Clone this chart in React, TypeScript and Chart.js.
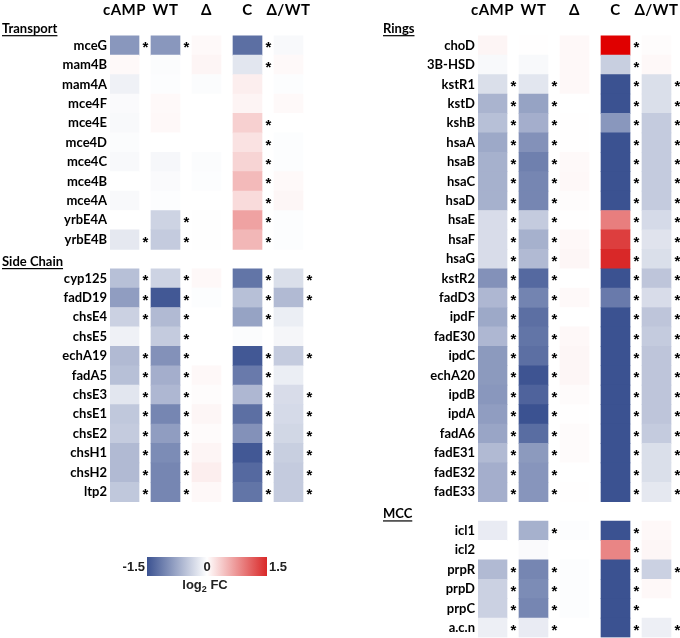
import React, { useEffect, useRef } from 'react';
import { Chart, registerables } from 'chart.js';
Chart.register(...registerables);

const columns = ['cAMP', 'WT', 'Δ', 'C', 'Δ/WT'];

// ---- Left panel ----
const transportGenes = ['mceG', 'mam4B', 'mam4A', 'mce4F', 'mce4E', 'mce4D', 'mce4C', 'mce4B', 'mce4A', 'yrbE4A', 'yrbE4B'];
const transportValues = [
  [-0.9, -0.9, 0.04, -1.25, -0.05],
  [0.04, -0.03, 0.07, -0.22, 0.04],
  [-0.12, -0.02, -0.03, 0.12, -0.02],
  [-0.04, 0.04, 0.0, 0.08, 0.04],
  [-0.05, 0.05, 0.0, 0.33, 0.0],
  [-0.03, 0.0, 0.0, 0.2, -0.02],
  [-0.05, -0.07, -0.03, 0.3, -0.02],
  [0.0, -0.04, -0.02, 0.48, 0.04],
  [-0.05, -0.02, 0.0, 0.25, 0.06],
  [0.0, -0.38, -0.01, 0.65, -0.02],
  [-0.2, -0.45, -0.01, 0.5, -0.02],
];
const transportStars = [[0, 1, 3], [3], [], [], [3], [3], [3], [3], [3], [1, 3], [0, 1, 3]];

const sideChainGenes = ['cyp125', 'fadD19', 'chsE4', 'chsE5', 'echA19', 'fadA5', 'chsE3', 'chsE1', 'chsE2', 'chsH1', 'chsH2', 'ltp2'];
const sideChainValues = [
  [-0.55, -0.38, 0.05, -1.2, -0.28],
  [-0.85, -1.45, -0.02, -0.55, -0.6],
  [-0.4, -0.6, 0.0, -0.8, -0.15],
  [-0.12, -0.45, 0.0, -0.03, -0.08],
  [-0.6, -0.95, 0.0, -1.45, -0.45],
  [-0.55, -0.7, 0.05, -1.15, -0.15],
  [-0.22, -0.62, 0.02, -0.62, -0.3],
  [-0.48, -1.05, 0.06, -1.25, -0.32],
  [-0.45, -0.85, 0.03, -0.95, -0.35],
  [-0.6, -1.0, 0.07, -1.45, -0.42],
  [-0.6, -1.05, 0.12, -1.3, -0.45],
  [-0.48, -1.05, 0.05, -1.2, -0.45],
];
const sideChainStars = [[0, 1, 3, 4], [0, 1, 3, 4], [0, 1, 3], [1], [0, 1, 3, 4], [0, 1, 3], [0, 1, 3, 4], [0, 1, 3, 4], [0, 1, 3, 4], [0, 1, 3, 4], [0, 1, 3, 4], [0, 1, 3, 4]];

// ---- Right panel ----
const ringsGenes = ['choD', '3B-HSD', 'kstR1', 'kstD', 'kshB', 'hsaA', 'hsaB', 'hsaC', 'hsaD', 'hsaE', 'hsaF', 'hsaG', 'kstR2', 'fadD3', 'ipdF', 'fadE30', 'ipdC', 'echA20', 'ipdB', 'ipdA', 'fadA6', 'fadE31', 'fadE32', 'fadE33'];
const ringsValues = [
  [0.07, 0.01, 0.05, 2.0, 0.02],
  [-0.05, -0.05, 0.05, -0.42, 0.05],
  [-0.28, -0.22, 0.05, -1.5, -0.28],
  [-0.65, -0.8, 0.0, -1.5, -0.28],
  [-0.55, -0.7, 0.01, -0.9, -0.45],
  [-0.75, -0.95, 0.01, -1.5, -0.45],
  [-0.68, -1.1, 0.04, -1.5, -0.45],
  [-0.68, -1.05, 0.05, -1.5, -0.45],
  [-0.68, -1.05, 0.02, -1.5, -0.45],
  [-0.3, -0.45, 0.01, 0.9, -0.32],
  [-0.3, -0.68, 0.05, 1.35, -0.24],
  [-0.3, -0.6, 0.06, 1.5, -0.28],
  [-0.95, -1.3, 0.0, -1.5, -0.5],
  [-0.62, -1.07, 0.04, -1.15, -0.3],
  [-0.75, -1.25, 0.0, -1.5, -0.5],
  [-0.62, -1.2, 0.05, -1.5, -0.45],
  [-0.88, -1.25, 0.06, -1.5, -0.5],
  [-0.88, -1.48, 0.06, -1.5, -0.5],
  [-0.9, -1.35, 0.03, -1.5, -0.5],
  [-0.85, -1.5, 0.01, -1.5, -0.5],
  [-0.78, -1.27, 0.03, -1.5, -0.45],
  [-0.6, -0.88, 0.03, -1.5, -0.28],
  [-0.7, -0.92, 0.0, -1.5, -0.28],
  [-0.7, -0.92, 0.01, -1.5, -0.2],
];
const ringsStars = [[3], [3], ...Array.from({ length: 22 }, () => [0, 1, 3, 4])];

const mccGenes = ['icl1', 'icl2', 'prpR', 'prpD', 'prpC', 'a.c.n'];
const mccValues = [
  [-0.17, -0.68, -0.02, -1.5, 0.05],
  [0.0, -0.04, 0.0, 0.85, 0.06],
  [-0.6, -1.05, -0.02, -1.5, -0.4],
  [-0.4, -1.0, -0.02, -1.5, 0.05],
  [-0.4, -1.05, -0.02, -1.5, 0.0],
  [-0.14, -0.17, 0.0, -1.5, -0.14],
];
const mccStars = [[1, 3], [3], [0, 1, 3, 4], [0, 1, 3], [0, 1, 3], [0, 1, 3, 4]];

const colorbarTicks = ['-1.5', '0', '1.5'];

// ---- styling ----
const CELL = 29 / 41;
const BLUE = [59, 82, 145];
const RED = [217, 40, 40];
const RED_MAX = [224, 0, 0];
const LABEL_FONT = 'bold 13px Lato';
const mix = (a: number[], b: number[], t: number) =>
  `rgb(${a.map((v, i) => Math.round(v + (b[i] - v) * t)).join(',')})`;
function heatColor(v: number) {
  const W = [255, 255, 255];
  if (v < 0) return mix(W, BLUE, Math.min(1, -v / 1.5));
  if (v <= 1.5) return mix(W, RED, v / 1.5);
  return mix(RED, RED_MAX, Math.min(1, (v - 1.5) / 0.5));
}

type Section = { title: string; genes: string[]; values: number[][]; stars: number[][] };

function Panel({ sections, left, padLeft, headerX, colorbar }: { sections: Section[]; left: number; padLeft: number; headerX: number; colorbar: boolean }) {
  const ref = useRef<HTMLCanvasElement>(null);
  useEffect(() => {
    const rows: { gene: string; row: number; values: number[]; stars: number[] }[] = [];
    const headers: { title: string; row: number }[] = [];
    let r = -1;
    for (const s of sections) {
      headers.push({ title: s.title, row: r });
      r++;
      s.genes.forEach((g, i) => {
        rows.push({ gene: g, row: r, values: s.values[i], stars: s.stars[i] });
        r++;
      });
    }
    const W = 340;
    const xMax = 4.8;
    const padRight = W - (padLeft + xMax * 41);
    const datasets = columns.map((col, c) => ({
      label: col,
      data: rows.map((rw) => ({ x: [c, c + CELL], y: rw.row })),
      backgroundColor: rows.map((rw) => heatColor(rw.values[c])),
      grouped: false,
      barPercentage: 1,
      categoryPercentage: 1,
      borderWidth: 0,
    }));
    const textPlugin = {
      id: 'heatText',
      afterDraw(chart: any) {
        const ctx = chart.ctx;
        const xs = chart.scales.x;
        const ys = chart.scales.y;
        ctx.save();
        ctx.fillStyle = '#000';
        // column headers
        ctx.font = 'bold 15px Lato';
        ctx.textAlign = 'center';
        ctx.textBaseline = 'middle';
        try { (ctx as any).letterSpacing = '0.5px'; } catch (e) {}
        columns.forEach((col, c) => ctx.fillText(col, xs.getPixelForValue(c + CELL / 2), 10));
        try { (ctx as any).letterSpacing = '0px'; } catch (e) {}
        // section headers
        ctx.font = LABEL_FONT;
        ctx.textAlign = 'left';
        headers.forEach((h) => {
          const y = ys.getPixelForValue(h.row) + 2.5;
          ctx.fillText(h.title, headerX, y);
          const w = ctx.measureText(h.title).width;
          ctx.fillRect(headerX, y + 6.5, w, 1.2);
        });
        // row labels
        ctx.textAlign = 'right';
        rows.forEach((rw) => ctx.fillText(rw.gene, xs.getPixelForValue(0) - 3, ys.getPixelForValue(rw.row)));
        // stars
        ctx.textAlign = 'center';
        ctx.textBaseline = 'alphabetic';
        ctx.font = 'bold 15px "Liberation Sans"';
        rows.forEach((rw) => {
          rw.stars.forEach((c) => {
            ctx.fillText('*', xs.getPixelForValue(c + CELL) + 6.5, ys.getPixelForValue(rw.row) + 7);
          });
        });
        if (colorbar) {
          const x0 = 147, x1 = 267, y0 = 557, y1 = 576;
          const g = ctx.createLinearGradient(x0, 0, x1, 0);
          g.addColorStop(0, heatColor(-1.5));
          g.addColorStop(0.5, heatColor(0));
          g.addColorStop(1, heatColor(1.5));
          ctx.fillStyle = g;
          ctx.fillRect(x0, y0, x1 - x0, y1 - y0);
          ctx.fillStyle = '#222';
          ctx.font = 'bold 13px "Liberation Sans"';
          ctx.textBaseline = 'middle';
          ctx.textAlign = 'right';
          ctx.fillText(colorbarTicks[0], x0 - 2, 567);
          ctx.textAlign = 'center';
          ctx.fillText(colorbarTicks[1], (x0 + x1) / 2, 567);
          ctx.textAlign = 'left';
          ctx.fillText(colorbarTicks[2], x1 + 2, 567);
          // log2 FC
          const big = 'bold 13px "Liberation Sans"';
          const fSmall = 'bold 9px "Liberation Sans"';
          const a = 'log', b = '2', cc = ' FC';
          ctx.font = big;
          const wa = ctx.measureText(a).width;
          const wc = ctx.measureText(cc).width;
          ctx.font = fSmall;
          const wb = ctx.measureText(b).width;
          const total = wa + wb + wc;
          let x = (x0 + x1) / 2 - total / 2 - 2;
          ctx.textAlign = 'left';
          ctx.textBaseline = 'alphabetic';
          ctx.font = big;
          ctx.fillText(a, x, 589);
          x += wa;
          ctx.font = fSmall;
          ctx.fillText(b, x, 592);
          x += wb;
          ctx.font = big;
          ctx.fillText(cc, x, 589);
        }
        ctx.restore();
      },
    };
    const chart = new Chart(ref.current as HTMLCanvasElement, {
      type: 'bar',
      data: { datasets } as any,
      options: {
        indexAxis: 'y',
        animation: false,
        responsive: false,
        events: [],
        layout: { padding: { left: padLeft, right: padRight, top: 6.68, bottom: 0.5 } },
        scales: {
          x: { type: 'linear', min: 0, max: xMax, display: false },
          y: { type: 'linear', min: -2, max: 30.5, reverse: true, display: false, offset: false },
        },
        plugins: { legend: { display: false }, tooltip: { enabled: false } },
      } as any,
      plugins: [textPlugin],
    });
    return () => chart.destroy();
  }, []);
  return (
    <canvas ref={ref} width={340} height={638} style={{ position: 'absolute', left, top: 0, width: 340, height: 638 }} />
  );
}

export default function App() {
  const leftSections: Section[] = [
    { title: 'Transport', genes: transportGenes, values: transportValues, stars: transportStars },
    { title: 'Side Chain', genes: sideChainGenes, values: sideChainValues, stars: sideChainStars },
  ];
  const rightSections: Section[] = [
    { title: 'Rings', genes: ringsGenes, values: ringsValues, stars: ringsStars },
    { title: 'MCC', genes: mccGenes, values: mccValues, stars: mccStars },
  ];
  return (
    <div style={{ position: 'fixed', left: 0, top: 0, width: 680, height: 638, background: '#fff' }}>
      <Panel sections={leftSections} left={0} padLeft={110} headerX={2} colorbar={true} />
      <Panel sections={rightSections} left={340} padLeft={138} headerX={43} colorbar={false} />
    </div>
  );
}
